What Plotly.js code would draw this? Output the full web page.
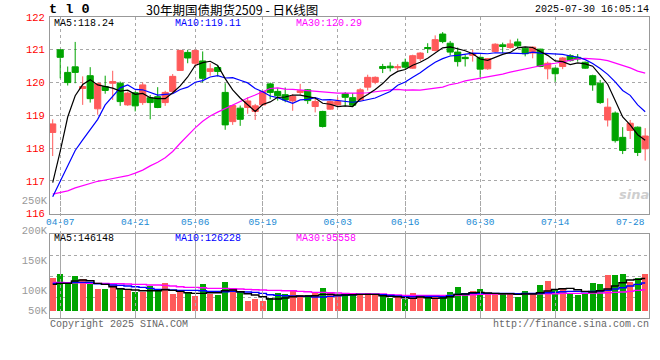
<!DOCTYPE html>
<html><head><meta charset="utf-8">
<script src="https://cdn.plot.ly/plotly-3.0.1.min.js"></script>
<style>html,body{margin:0;padding:0;background:#fff;}#chart{width:660px;height:360px;}</style>
</head><body><div id="chart"></div>
<script>
// ---------- data ----------
const dates = ['04-03','04-07','04-08','04-09','04-10','04-11','04-14','04-15','04-16','04-17','04-18','04-21','04-22','04-23','04-24','04-25','04-28','04-29','04-30',
'05-06','05-07','05-08','05-09','05-12','05-13','05-14','05-15','05-16','05-19','05-20','05-21','05-22','05-23','05-26','05-27','05-28','05-29','05-30',
'06-03','06-04','06-05','06-06','06-09','06-10','06-11','06-12','06-13','06-16','06-17','06-18','06-19','06-20','06-23','06-24','06-25','06-26','06-27','06-30',
'07-01','07-02','07-03','07-04','07-07','07-08','07-09','07-10','07-11','07-14','07-15','07-16','07-17','07-18','07-21','07-22','07-23','07-24','07-25','07-28','07-29','07-30'];

const openP = [118.48,121.00,120.31,120.48,119.82,120.21,119.20,119.88,119.98,119.98,119.32,119.69,119.39,119.54,119.57,119.39,119.73,120.37,120.92,120.59,
120.66,120.34,120.46,119.70,118.81,119.22,119.24,119.12,119.32,119.96,119.73,119.63,119.44,119.70,119.78,119.27,119.12,119.19,119.32,119.66,
119.54,119.47,119.86,120.01,120.49,120.50,120.45,120.62,120.44,120.73,121.07,120.98,121.48,121.20,120.93,120.77,120.83,120.77,120.42,120.95,
121.15,121.07,121.24,121.05,120.90,121.02,120.42,120.44,120.49,120.82,120.77,120.62,120.21,119.98,118.86,119.07,118.33,118.54,118.64,117.98];
const highP = [118.88,121.02,120.49,121.24,120.19,120.47,120.00,120.21,120.36,120.03,119.73,119.73,120.00,119.62,119.86,119.75,120.26,121.00,121.00,121.00,
120.95,120.59,120.51,119.98,119.32,119.30,119.55,119.35,119.75,120.00,119.83,119.85,119.65,119.96,119.80,119.52,119.14,119.45,119.55,119.71,
119.68,119.83,120.24,120.19,120.57,120.62,120.56,120.73,120.85,120.93,121.20,121.44,121.54,121.27,121.07,120.85,121.00,120.80,120.75,121.20,
121.22,121.31,121.34,121.08,121.10,121.03,120.64,120.46,120.78,120.87,120.87,120.64,120.24,120.08,119.52,119.12,118.64,118.86,118.66,118.61];
const lowP = [117.76,120.13,119.91,119.98,119.32,119.39,119.02,119.66,119.47,119.29,119.29,119.12,119.32,118.88,119.22,119.29,119.68,120.37,120.59,120.49,
120.00,120.21,120.19,118.56,118.71,118.68,119.05,118.86,119.30,119.49,119.45,119.40,119.14,119.63,119.35,119.09,118.63,119.17,119.27,119.27,
119.27,119.44,119.76,119.95,120.29,120.34,120.37,120.39,120.42,120.66,120.90,120.95,121.20,120.83,120.49,120.49,120.64,120.16,120.39,120.93,
120.90,121.03,121.05,120.80,120.74,120.47,120.10,120.02,120.41,120.64,120.64,120.42,119.75,119.35,118.66,118.17,117.82,118.28,117.76,117.62];
const closeP = [118.74,120.77,120.00,120.31,119.88,119.51,119.97,119.76,120.03,119.42,119.68,119.29,119.93,119.39,119.24,119.70,120.19,120.98,120.75,120.98,
120.13,120.42,120.34,118.71,119.30,118.88,119.44,119.29,119.73,119.70,119.60,119.47,119.58,119.75,119.45,119.42,118.66,119.42,119.42,119.55,
119.31,119.78,120.16,120.16,120.43,120.45,120.48,120.47,120.82,120.90,121.04,121.31,121.25,120.93,120.64,120.73,120.87,120.41,120.73,121.17,
121.10,121.18,121.12,120.88,121.08,120.49,120.59,120.27,120.75,120.67,120.72,120.44,119.93,119.39,119.25,118.23,117.93,118.76,117.87,118.37];

const ma5 = [116.95,117.90,118.95,119.60,119.94,120.09,119.93,119.89,119.83,119.74,119.77,119.64,119.67,119.54,119.51,119.51,119.69,119.90,120.17,120.52,
120.61,120.65,120.52,120.12,119.78,119.53,119.33,119.12,119.33,119.41,119.55,119.56,119.62,119.62,119.57,119.53,119.37,119.34,119.27,119.29,
119.27,119.50,119.64,119.79,119.97,120.20,120.34,120.40,120.53,120.62,120.74,120.91,121.06,121.09,121.03,120.97,120.88,120.72,120.68,120.78,
120.86,120.92,121.06,121.09,121.07,120.95,120.83,120.66,120.64,120.55,120.60,120.57,120.50,120.23,119.95,119.45,118.95,118.71,118.41,118.24];
const ma10 = [116.52,116.98,117.44,117.93,118.25,118.56,118.88,119.32,119.58,119.84,119.93,119.79,119.78,119.69,119.62,119.64,119.66,119.79,119.86,120.01,
120.06,120.17,120.21,120.14,120.15,120.07,119.99,119.82,119.72,119.59,119.54,119.45,119.37,119.47,119.49,119.54,119.47,119.48,119.45,119.43,
119.40,119.43,119.49,119.53,119.63,119.73,119.92,120.02,120.16,120.30,120.47,120.62,120.73,120.81,120.83,120.86,120.90,120.89,120.88,120.91,
120.91,120.90,120.89,120.88,120.93,120.90,120.88,120.86,120.86,120.81,120.78,120.70,120.58,120.43,120.25,120.02,119.76,119.61,119.32,119.11];
const ma30 = [116.60,116.65,116.70,116.79,116.86,116.93,116.99,117.03,117.07,117.11,117.16,117.24,117.33,117.46,117.57,117.71,117.90,118.15,118.40,118.62,
118.82,118.98,119.10,119.21,119.32,119.43,119.53,119.62,119.72,119.82,119.84,119.80,119.79,119.77,119.75,119.75,119.71,119.70,119.68,119.68,
119.67,119.68,119.69,119.72,119.76,119.78,119.79,119.77,119.78,119.77,119.80,119.83,119.86,119.94,119.98,120.05,120.09,120.13,120.16,120.21,
120.26,120.32,120.37,120.41,120.46,120.50,120.56,120.59,120.64,120.67,120.72,120.74,120.73,120.71,120.67,120.60,120.51,120.45,120.35,120.29];

const volume = [148300,166100,124400,158700,142300,127400,99100,99100,117000,99100,97600,85700,85700,112500,97600,125900,78200,85700,84200,69300,
122900,78200,72300,130400,99100,85700,45400,54400,45400,57400,81200,78200,94600,72300,72300,79700,103600,79700,72300,76700,
76700,72300,82700,72300,67800,58900,64800,55900,82700,67800,72300,72300,63300,85700,108000,81200,90100,99100,82700,82700,
79700,79700,63300,90100,82700,118500,134800,94600,97600,82700,72300,82700,125900,121400,161700,161700,166100,130400,148300,166100];
const volMa5 = [119900,124400,124400,134800,139300,136300,124400,119900,109500,100600,97600,94600,91600,91600,91600,96100,93100,88700,82700,79700,
79700,82700,82700,91600,94600,87200,78200,72300,64800,54400,54400,58900,64800,67800,67800,69300,75200,75200,72300,72300,
73800,75200,75200,75200,69300,66300,64800,60300,57400,63300,60300,57400,58900,64800,75200,76700,82700,84200,81200,79700,
78200,78200,75200,76700,76700,82700,90100,97600,100600,102100,96100,88700,85700,91600,99100,112500,127400,139300,142300,146148];
const volMa10 = [124400,124400,124400,128900,128900,128900,122900,119900,117000,115500,112500,109500,106500,102100,97600,97600,94600,93100,93100,93100,
91600,88700,88700,87200,88700,87200,85700,84200,79700,73800,70800,69300,67800,66300,66300,63300,63300,66300,69300,72300,
73800,75200,75200,75200,73800,70800,67800,64800,64800,66300,66300,66300,64800,69300,75200,76700,79700,79700,79700,79700,
79700,79700,78200,79700,79700,79700,82700,84200,87200,88700,88700,87200,88700,90100,93100,99100,105000,112500,119900,126228];
const volMa30 = [128900,128900,127400,127400,127400,124400,124400,124400,122900,122900,121400,119900,119900,117000,117000,115500,112500,109500,106500,106500,
105000,102100,102100,102100,100600,99100,97600,96100,94600,93100,93100,91600,91600,88700,87200,84200,84200,82700,81200,79700,
78200,76700,76700,76700,76700,73800,72300,70800,70800,70800,70800,70800,70800,70800,72300,72300,73800,75200,76700,76700,
78200,78200,78200,78200,78200,78200,78200,78200,79700,79700,79700,79700,81200,81200,82700,84200,85700,88700,93100,95558];

const gridDates = ['04-07','04-21','05-06','05-19','06-03','06-16','06-30','07-14'];
const labelDates = ['04-07','04-21','05-06','05-19','06-03','06-16','06-30','07-14','07-28'];
const priceTicks = [116,117,118,119,120,121,122];
const volTickText = ['50K','100K','150K','200K','250K'];
const volTickVals = [66667,100000,150000,200000,250000];

// ---------- styles ----------
const UP = '#ff5a5a', DOWN = '#00a400';
const GRID = '#a8a8a8', BORDER = '#999999';
const MONO = 'Liberation Mono, DejaVu Sans Mono, monospace';
const last = a => a[a.length - 1];

const xr = [-0.36, 79.51];
const volRange = [-30400, 345100];
const volGrid = [1, 2, 3].map(k => volRange[0] + k * (volRange[1] - volRange[0]) / 4);
const volLabelRange = [53333, 258333];

// pixel -> paper helpers (plot area: x 50..649, y 17..318)
const PX = px => (px - 50) / 599;
const PY = py => (318 - py) / 301;

const traces = [
  {type:'candlestick', x:dates, open:openP, high:highP, low:lowP, close:closeP, xaxis:'x', yaxis:'y',
   increasing:{line:{color:UP, width:1}, fillcolor:UP},
   decreasing:{line:{color:DOWN, width:1}, fillcolor:DOWN},
   whiskerwidth:0, hoverinfo:'skip'},
  {type:'scatter', mode:'lines', x:dates, y:ma30, xaxis:'x', yaxis:'y', line:{color:'#ff00ff', width:1.2}, hoverinfo:'skip'},
  {type:'scatter', mode:'lines', x:dates, y:ma10, xaxis:'x', yaxis:'y', line:{color:'#0000ff', width:1.2}, hoverinfo:'skip'},
  {type:'scatter', mode:'lines', x:dates, y:ma5, xaxis:'x2', yaxis:'y', line:{color:'#000000', width:1.2}, hoverinfo:'skip'},
  {type:'bar', x:dates, y:volume, xaxis:'x3', yaxis:'y2', width:0.8,
   marker:{color:closeP.map((c, i) => c >= openP[i] ? UP : DOWN), line:{width:0}}, hoverinfo:'skip'},
  {type:'scatter', mode:'lines', x:dates, y:volMa30, xaxis:'x3', yaxis:'y2', line:{color:'#ff00ff', width:1.4, shape:'hvh'}, hoverinfo:'skip'},
  {type:'scatter', mode:'lines', x:dates, y:volMa10, xaxis:'x3', yaxis:'y2', line:{color:'#0000ff', width:1.4, shape:'hvh'}, hoverinfo:'skip'},
  {type:'scatter', mode:'lines', x:dates, y:volMa5, xaxis:'x3', yaxis:'y2', line:{color:'#000000', width:1.4, shape:'hvh'}, hoverinfo:'skip'},
  // empty trace so the volume label scale (y3) gets its own subplot
  {type:'scatter', mode:'none', x:[], y:[], xaxis:'x3', yaxis:'y3', hoverinfo:'skip'}
];

const catAxis = {type:'category', categoryorder:'array', categoryarray:dates, range:xr, fixedrange:true, ticks:'', zeroline:false};

function ann(text, x, y, xanchor, font) {
  return {text, x, y, xref:'paper', yref:'paper', xanchor, yanchor:'middle', showarrow:false, font, borderpad:0};
}

const annotations = [
  ann('<b>t l 0</b>', PX(48), PY(10), 'left', {family:MONO, size:13.5, color:'#000'}),
  ann('30年期国债期货2509 - 日K线图', PX(232), PY(10), 'center', {family:'Noto Sans CJK SC, sans-serif', size:12.5, color:'#000'}),
  ann('2025-07-30 16:05:14', PX(650), PY(10), 'right', {family:MONO, size:10, color:'#000'}),
  ann('MA5:' + last(ma5).toFixed(2), PX(53), PY(23), 'left', {family:MONO, size:10, color:'#000'}),
  ann('MA10:' + last(ma10).toFixed(2), PX(174), PY(23), 'left', {family:MONO, size:10, color:'#0000ff'}),
  ann('MA30:' + last(ma30).toFixed(2), PX(295), PY(23), 'left', {family:MONO, size:10, color:'#ff00ff'}),
  ann('MA5:' + last(volMa5), PX(53), PY(238), 'left', {family:MONO, size:10, color:'#000'}),
  ann('MA10:' + last(volMa10), PX(174), PY(238), 'left', {family:MONO, size:10, color:'#0000ff'}),
  ann('MA30:' + last(volMa30), PX(295), PY(238), 'left', {family:MONO, size:10, color:'#ff00ff'}),
  ann('Copyright 2025 SINA.COM', PX(49), PY(324), 'left', {family:MONO, size:10, color:'#666'}),
  ann('http://finance.sina.com.cn', PX(650), PY(324), 'right', {family:MONO, size:10, color:'#666'}),
  ann('<b><i>sina</i></b>', PX(634), PY(194), 'center', {family:'DejaVu Sans, sans-serif', size:13, color:'rgba(190,190,190,0.75)'})
];

const layout = {
  width:660, height:360,
  margin:{l:50, r:11, t:17, b:42, pad:0},
  paper_bgcolor:'#ffffff', plot_bgcolor:'rgba(0,0,0,0)',
  showlegend:false, dragmode:false,
  boxgap:0.18, boxgroupgap:0, bargap:0,
  font:{family:MONO, size:10, color:'#000'},
  xaxis:Object.assign({}, catAxis, {domain:[0,1], anchor:'y', tickmode:'array', tickvals:gridDates, showticklabels:false,
    showgrid:true, gridcolor:GRID, griddash:'dot', gridwidth:1,
    showline:true, mirror:true, linecolor:BORDER, linewidth:1, rangeslider:{visible:false}}),
  xaxis2:Object.assign({}, catAxis, {overlaying:'x', anchor:'y', side:'bottom', tickmode:'array', tickvals:labelDates,
    showgrid:false, showline:false, tickfont:{family:MONO, size:9.5, color:'#1a8ad4'}, ticklabelstandoff:1}),
  yaxis:{domain:[PY(213.75), 1], anchor:'x', range:[116, 122], tickmode:'array', tickvals:priceTicks,
    ticktext:priceTicks.map(String), tickfont:{family:MONO, size:10.5, color:'#ff0000'},
    showgrid:true, gridcolor:GRID, griddash:'dot', gridwidth:1,
    showline:true, mirror:true, linecolor:BORDER, linewidth:1, ticks:'', zeroline:false, fixedrange:true, ticklabelstandoff:2},
  xaxis3:Object.assign({}, catAxis, {domain:[0,1], anchor:'y2', tickmode:'array', tickvals:gridDates, showticklabels:false,
    showgrid:true, gridcolor:GRID, griddash:'dot', gridwidth:1,
    showline:true, mirror:true, linecolor:BORDER, linewidth:1}),
  yaxis2:{domain:[0, PY(234)], anchor:'x3', range:volRange, tickmode:'array', tickvals:volGrid, showticklabels:false,
    showgrid:true, gridcolor:GRID, griddash:'dot', gridwidth:1,
    showline:true, mirror:true, linecolor:BORDER, linewidth:1, ticks:'', zeroline:false, fixedrange:true},
  yaxis3:{domain:[0, PY(195)], anchor:'x3', range:volLabelRange, autorange:false, tickmode:'array', tickvals:volTickVals, ticktext:volTickText,
    tickfont:{family:MONO, size:10.5, color:'#999999'}, showgrid:false, showline:false, zeroline:false, ticks:'', fixedrange:true, ticklabelstandoff:2},
  annotations
};

Plotly.newPlot('chart', traces, layout, {displayModeBar:false, staticPlot:true});
</script>
</body></html>
